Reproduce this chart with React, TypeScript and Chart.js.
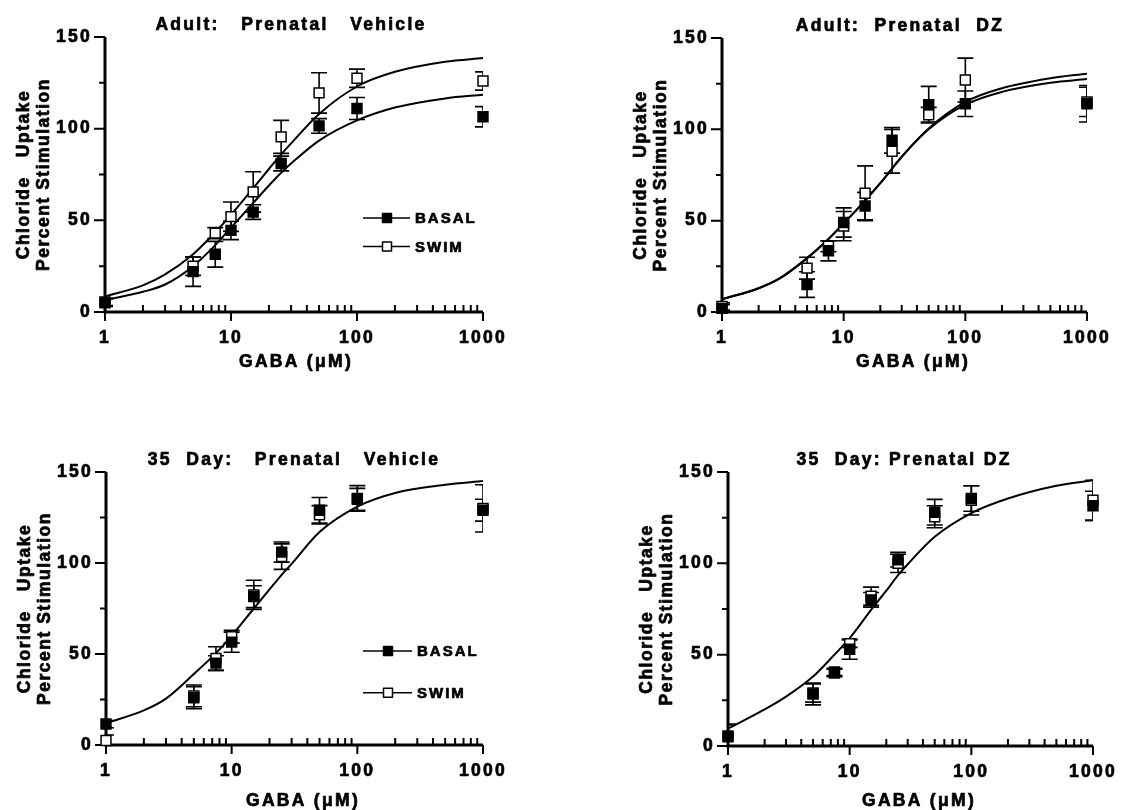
import React, { useEffect, useRef } from 'react';
import { Chart, registerables } from 'chart.js';

Chart.register(...registerables);

// ---------- data ----------
const GABA_UM = [1, 5, 7.5, 10, 15, 25, 50, 100, 1000];
const FIT_GABA_UM = [1, 2, 3, 5, 7.5, 10, 15, 20, 25, 30, 50, 100, 200, 500, 1000];

const X_TICKS = [1, 10, 100, 1000];
const X_TICK_LABELS = ['1', '10', '100', '1000'];
const X_MINOR_TICKS = [2, 3, 4, 5, 6, 7, 8, 9, 20, 30, 40, 50, 60, 70, 80, 90, 200, 300, 400, 500, 600, 700, 800, 900];
const Y_TICKS = [0, 50, 100, 150];
const Y_TICK_LABELS = ['0', '50', '100', '150'];
const Y_MINOR_TICKS = [25, 75, 125];

const SERIES_NAMES = ['BASAL', 'SWIM'];
const PANEL_TITLES = [
  'Adult:   Prenatal   Vehicle',
  'Adult:  Prenatal  DZ',
  '35  Day:   Prenatal   Vehicle',
  '35  Day: Prenatal DZ',
];
const Y_TITLE_LINES = ['Chloride   Uptake', 'Percent Stimulation'];
const X_TITLE = 'GABA (\u03BCM)';

// Adult, prenatal vehicle
const ADULT_VEH_BASAL = [5, 22, 31.5, 44.5, 54.5, 81, 101.5, 111, 106.5];
const ADULT_VEH_BASAL_SEM = [2, 8, 7, 5, 4, 4, 4, 6, 5.5];
const ADULT_VEH_SWIM = [5.5, 25, 43, 52, 65.5, 95.5, 119.5, 127.5, 126];
const ADULT_VEH_SWIM_SEM = [2, 5, 3, 8, 11, 9, 11, 5, 5];
const ADULT_VEH_SWIM_FIT = [8.5, 14.5, 20.5, 31.5, 43.5, 53, 67.5, 78, 86, 92, 108, 123, 131, 136.5, 138.5];
const ADULT_VEH_BASAL_FIT = [6.5, 11, 15, 25, 36.5, 46, 59.5, 69, 76, 81, 93.5, 104.5, 111.5, 116.5, 118.5];

// Adult, prenatal DZ
const ADULT_DZ_BASAL = [2, 15, 33.5, 49, 58, 94, 113.5, 114, 114];
const ADULT_DZ_BASAL_SEM = [2, 7, 5.5, 8, 7.5, 7, 10, 7, 10];
const ADULT_DZ_SWIM = [3, 24, 36, 47, 65, 88, 108, 127, 115];
const ADULT_DZ_SWIM_SEM = [2, 6, 3, 8, 15, 12, 4, 12, 8];
const ADULT_DZ_FIT_A = [7, 13, 18.5, 29.5, 40, 48.5, 61, 70.5, 78.5, 85, 100.5, 115, 122.5, 128, 130.5];
const ADULT_DZ_FIT_B = [7, 13, 18.5, 29.5, 40, 48.5, 61, 70.5, 78.5, 85, 100, 113.5, 120.5, 125.5, 127.5];

// 35 day, prenatal vehicle
const DAY35_VEH_BASAL = [11.5, 26, 45, 56.5, 81.5, 106, 129, 135.5, 129];
const DAY35_VEH_BASAL_SEM = [2, 6, 4, 5.5, 6, 5.5, 7, 7, 6];
const DAY35_VEH_SWIM = [2.5, 27, 47.5, 59.5, 82.5, 103.5, 126.5, 135, 130];
const DAY35_VEH_SWIM_SEM = [3, 6, 6.5, 3.5, 8, 7, 5, 6, 13];
const DAY35_VEH_FIT = [12, 19, 25.5, 39, 50.5, 60, 75, 85.5, 93.5, 99.5, 117, 131, 138.5, 143, 145];

// 35 day, prenatal DZ
const DAY35_DZ_BASAL = [5.5, 28.5, 40.5, 53, 80, 102, 128, 135.5, 131.5];
const DAY35_DZ_BASAL_SEM = [6, 6, 2, 5.5, 4, 4, 7, 7, 8];
const DAY35_DZ_SWIM = [5, 29, 40, 56, 82, 100, 125.5, 134.5, 134.5];
const DAY35_DZ_SWIM_SEM = [7, 5, 2, 2, 5, 5, 6, 8, 11];
const DAY35_DZ_FIT = [9.5, 20, 27, 38, 50, 59, 74.5, 85, 93.5, 99.5, 114.5, 127.5, 135.5, 142.5, 145.5];

// ---------- layout / style ----------
const FONT = '"Liberation Sans", Arial, Helvetica, sans-serif';
const TEXT_STROKE = 0.7;

type Legend = { x1: number; x2: number; mx: number; tx: number; y1: number; y2: number };
type PanelDef = {
  title: string;
  left: number; top: number; w: number; h: number;
  area: { left: number; top: number; right: number; bottom: number };
  titleX: number; xTitleX: number; xTitleY: number;
  basal: number[]; basalErr: number[]; swim: number[]; swimErr: number[];
  fits: number[][];
  legend: Legend | null;
};

const PANELS: PanelDef[] = [
  {
    title: PANEL_TITLES[0], left: 0, top: 0, w: 572, h: 400,
    area: { left: 105, top: 37, right: 483, bottom: 312 },
    titleX: 291, xTitleX: 296, xTitleY: 367,
    basal: ADULT_VEH_BASAL, basalErr: ADULT_VEH_BASAL_SEM, swim: ADULT_VEH_SWIM, swimErr: ADULT_VEH_SWIM_SEM,
    fits: [ADULT_VEH_SWIM_FIT, ADULT_VEH_BASAL_FIT],
    legend: { x1: 363, x2: 410, mx: 387, tx: 415, y1: 218, y2: 246.5 },
  },
  {
    title: PANEL_TITLES[1], left: 572, top: 0, w: 573, h: 400,
    area: { left: 150, top: 38, right: 515, bottom: 312 },
    titleX: 328, xTitleX: 341, xTitleY: 367,
    basal: ADULT_DZ_BASAL, basalErr: ADULT_DZ_BASAL_SEM, swim: ADULT_DZ_SWIM, swimErr: ADULT_DZ_SWIM_SEM,
    fits: [ADULT_DZ_FIT_A, ADULT_DZ_FIT_B],
    legend: null,
  },
  {
    title: PANEL_TITLES[2], left: 0, top: 400, w: 572, h: 410,
    area: { left: 106, top: 72, right: 483, bottom: 345 },
    titleX: 294, xTitleX: 303, xTitleY: 406,
    basal: DAY35_VEH_BASAL, basalErr: DAY35_VEH_BASAL_SEM, swim: DAY35_VEH_SWIM, swimErr: DAY35_VEH_SWIM_SEM,
    fits: [DAY35_VEH_FIT],
    legend: { x1: 363, x2: 412, mx: 388, tx: 417, y1: 251, y2: 292.7 },
  },
  {
    title: PANEL_TITLES[3], left: 572, top: 400, w: 573, h: 410,
    area: { left: 156, top: 72, right: 521, bottom: 346 },
    titleX: 332, xTitleX: 347, xTitleY: 406,
    basal: DAY35_DZ_BASAL, basalErr: DAY35_DZ_BASAL_SEM, swim: DAY35_DZ_SWIM, swimErr: DAY35_DZ_SWIM_SEM,
    fits: [DAY35_DZ_FIT],
    legend: null,
  },
];

function boldText(ctx: CanvasRenderingContext2D, txt: string, x: number, y: number) {
  ctx.fillText(txt, x, y);
  ctx.strokeText(txt, x, y);
}

function makeDecor(def: PanelDef) {
  return {
    id: 'decor',
    beforeDraw(chart: any) {
      chart.ctx.letterSpacing = '2.3px';
    },
    beforeDatasetsDraw(chart: any) {
      const { ctx, chartArea: a } = chart;
      const x = chart.scales.x;
      const y = chart.scales.y;
      ctx.save();
      ctx.strokeStyle = '#000';
      ctx.lineCap = 'butt';
      const y0 = y.getPixelForValue(Y_TICKS[0]);
      const yTop = y.getPixelForValue(Y_TICKS[Y_TICKS.length - 1]);
      const x0 = x.getPixelForValue(X_TICKS[0]);
      const xEnd = x.getPixelForValue(X_TICKS[X_TICKS.length - 1]);
      // tick marks
      ctx.lineWidth = 2;
      ctx.beginPath();
      Y_TICKS.forEach((v) => { const p = y.getPixelForValue(v); ctx.moveTo(x0 - 11, p); ctx.lineTo(x0, p); });
      Y_MINOR_TICKS.forEach((v) => { const p = y.getPixelForValue(v); ctx.moveTo(x0 - 6, p); ctx.lineTo(x0, p); });
      X_TICKS.forEach((v) => { const p = x.getPixelForValue(v); ctx.moveTo(p, y0); ctx.lineTo(p, y0 + 9); });
      X_MINOR_TICKS.forEach((v) => { const p = x.getPixelForValue(v); ctx.moveTo(p, y0); ctx.lineTo(p, y0 - 7); });
      ctx.stroke();
      // axis lines
      ctx.lineWidth = 3;
      ctx.beginPath();
      ctx.moveTo(x0, y0 + 1.5); ctx.lineTo(x0, yTop);
      ctx.moveTo(x0 - 1.5, y0); ctx.lineTo(xEnd, y0);
      ctx.stroke();
      // error bars (clipped horizontally to the plot area)
      ctx.beginPath();
      ctx.rect(a.left, 0, a.right - a.left, chart.height);
      ctx.clip();
      ctx.lineWidth = 1.6;
      const sets: [number, number[], number[]][] = [[1, def.swim, def.swimErr], [0, def.basal, def.basalErr]];
      sets.forEach(([di, vals, errs]) => {
        const meta = chart.getDatasetMeta(di);
        meta.data.forEach((pt: any, i: number) => {
          const px = pt.x;
          const top = y.getPixelForValue(vals[i] + errs[i]);
          const bot = y.getPixelForValue(Math.max(0, vals[i] - errs[i]));
          ctx.beginPath();
          ctx.moveTo(px, top); ctx.lineTo(px, bot);
          ctx.moveTo(px - 8, top); ctx.lineTo(px + 8, top);
          ctx.moveTo(px - 8, bot); ctx.lineTo(px + 8, bot);
          ctx.stroke();
        });
      });
      ctx.restore();
    },
    afterDraw(chart: any) {
      const { ctx, chartArea: a } = chart;
      ctx.save();
      ctx.fillStyle = '#000';
      ctx.strokeStyle = '#000';
      ctx.lineWidth = TEXT_STROKE;
      ctx.lineJoin = 'round';
      ctx.font = `bold 17.5px ${FONT}`;
      ctx.letterSpacing = '2.3px';
      ctx.textAlign = 'center';
      ctx.textBaseline = 'alphabetic';
      boldText(ctx, def.title, def.titleX, a.top - 7);
      boldText(ctx, X_TITLE, def.xTitleX, def.xTitleY);
      // y title, two rotated lines
      ctx.letterSpacing = '1.5px';
      const cy = (a.top + a.bottom) / 2;
      const lines: [number, string][] = [[82, Y_TITLE_LINES[0]], [62, Y_TITLE_LINES[1]]];
      lines.forEach(([off, txt]) => {
        ctx.save();
        ctx.translate(a.left - off, cy);
        ctx.rotate(-Math.PI / 2);
        boldText(ctx, txt, 0, 6.3);
        ctx.restore();
      });
      // legend
      if (def.legend) {
        const L = def.legend;
        const rows: [number, boolean][] = [[L.y1, true], [L.y2, false]];
        rows.forEach(([yy, filled], k) => {
          ctx.lineWidth = 1.5;
          ctx.beginPath();
          ctx.moveTo(L.x1, yy); ctx.lineTo(L.x2, yy);
          ctx.stroke();
          ctx.fillStyle = filled ? '#000' : '#fff';
          ctx.fillRect(L.mx - 4.5, yy - 4.5, 9, 9);
          ctx.strokeRect(L.mx - 4.5, yy - 4.5, 9, 9);
          ctx.fillStyle = '#000';
          ctx.lineWidth = TEXT_STROKE;
          ctx.font = `bold 15px ${FONT}`;
          ctx.letterSpacing = '2px';
          ctx.textAlign = 'left';
          boldText(ctx, SERIES_NAMES[k], L.tx, yy + 5.4);
        });
      }
      ctx.restore();
    },
  };
}

function Panel({ def }: { def: PanelDef }) {
  const ref = useRef<HTMLCanvasElement>(null);
  useEffect(() => {
    const a = def.area;
    const pts = (ys: number[]) => GABA_UM.map((x, i) => ({ x, y: ys[i] }));
    const tickFont = { family: FONT, size: 17.5, weight: 'bold' as const };
    const chart = new Chart(ref.current as HTMLCanvasElement, {
      type: 'scatter',
      data: {
        datasets: [
          {
            label: SERIES_NAMES[0], data: pts(def.basal), showLine: false,
            pointStyle: 'rect', pointRadius: 7, pointBackgroundColor: '#000',
            pointBorderColor: '#000', pointBorderWidth: 1.5, clip: false as any,
          },
          {
            label: SERIES_NAMES[1], data: pts(def.swim), showLine: false,
            pointStyle: 'rect', pointRadius: 7, pointBackgroundColor: '#fff',
            pointBorderColor: '#000', pointBorderWidth: 1.5, clip: false as any,
          },
          ...def.fits.map((f) => ({
            label: 'fit', data: FIT_GABA_UM.map((x, i) => ({ x, y: f[i] })),
            showLine: true, pointRadius: 0, borderColor: '#000', borderWidth: 2,
            cubicInterpolationMode: 'monotone' as const, fill: false,
          })),
        ],
      },
      options: {
        responsive: false,
        animation: false,
        events: [],
        layout: { padding: { left: 0, top: a.top, right: def.w - a.right, bottom: 0 } },
        plugins: { legend: { display: false }, title: { display: false }, tooltip: { enabled: false } },
        scales: {
          x: {
            type: 'logarithmic', min: 1, max: 1000, position: 'bottom',
            grid: { display: false, drawTicks: false }, border: { display: false },
            afterBuildTicks: (s: any) => { s.ticks = X_TICKS.map((value) => ({ value })); },
            afterFit: (s: any) => { s.height = def.h - a.bottom; },
            ticks: {
              autoSkip: false, maxRotation: 0, minRotation: 0, padding: 16, color: '#000', font: tickFont,
              textStrokeColor: '#000', textStrokeWidth: TEXT_STROKE,
              callback: (_v: any, i: number) => X_TICK_LABELS[i],
            },
          },
          y: {
            type: 'linear', min: 0, max: 150,
            grid: { display: false, drawTicks: false }, border: { display: false },
            afterBuildTicks: (s: any) => { s.ticks = Y_TICKS.map((value) => ({ value })); },
            afterFit: (s: any) => { s.width = a.left; },
            ticks: {
              padding: 13, color: '#000', font: tickFont,
              textStrokeColor: '#000', textStrokeWidth: TEXT_STROKE,
              callback: (_v: any, i: number) => Y_TICK_LABELS[i],
            },
          },
        },
      } as any,
      plugins: [makeDecor(def) as any],
    });
    return () => chart.destroy();
  }, [def]);
  return (
    <canvas
      ref={ref}
      width={def.w}
      height={def.h}
      style={{ position: 'absolute', left: def.left, top: def.top, width: def.w, height: def.h, display: 'block' }}
    />
  );
}

export default function App() {
  return (
    <div style={{ position: 'absolute', left: 0, top: 0, width: 1145, height: 810, background: '#fff', overflow: 'hidden' }}>
      {PANELS.map((p, i) => (
        <Panel key={i} def={p} />
      ))}
    </div>
  );
}
